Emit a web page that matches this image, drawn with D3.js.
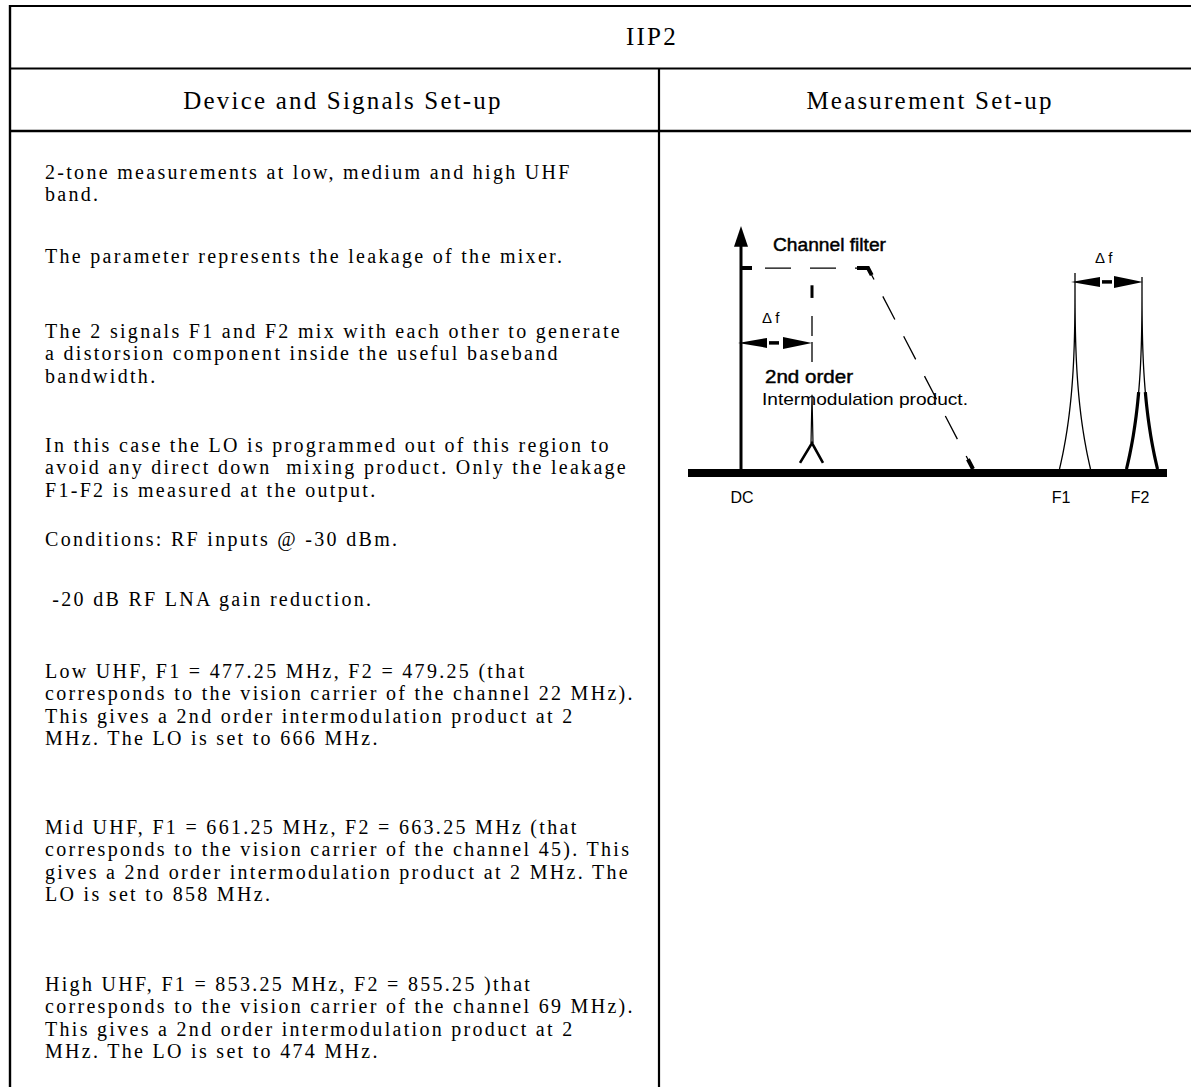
<!DOCTYPE html>
<html>
<head>
<meta charset="utf-8">
<script src="https://cdn.jsdelivr.net/npm/d3@7"></script>
<style>
  body { margin: 0; background: #fff; }
  svg { display: block; }
  .head { font-family: "Liberation Serif", "Times New Roman", serif; font-size: 25px; letter-spacing: 2.2px; fill: #000; }
  .body-text { font-family: "Liberation Serif", "Times New Roman", serif; font-size: 20px; letter-spacing: 2.3px; fill: #000; white-space: pre; }
  .diag { font-family: "Liberation Sans", Arial, sans-serif; fill: #000; }
  .heavy { stroke: #000; stroke-width: 0.45px; }
</style>
</head>
<body>
<svg id="chart"></svg>
<script>
// ---- content ----
var title = "IIP2";
var columnTitles = ["Device and Signals Set-up", "Measurement Set-up"];

var paragraphs = [
  ["2-tone measurements at low, medium and high UHF", "band."],
  ["The parameter represents the leakage of the mixer."],
  ["The 2 signals F1 and F2 mix with each other to generate",
   "a distorsion component inside the useful baseband",
   "bandwidth."],
  ["In this case the LO is programmed out of this region to",
   "avoid any direct down  mixing product. Only the leakage",
   "F1-F2 is measured at the output."],
  ["Conditions: RF inputs @ -30 dBm."],
  [" -20 dB RF LNA gain reduction."],
  ["Low UHF, F1 = 477.25 MHz, F2 = 479.25 (that",
   "corresponds to the vision carrier of the channel 22 MHz).",
   "This gives a 2nd order intermodulation product at 2",
   "MHz. The LO is set to 666 MHz."],
  ["Mid UHF, F1 = 661.25 MHz, F2 = 663.25 MHz (that",
   "corresponds to the vision carrier of the channel 45). This",
   "gives a 2nd order intermodulation product at 2 MHz. The",
   "LO is set to 858 MHz."],
  ["High UHF, F1 = 853.25 MHz, F2 = 855.25 )that",
   "corresponds to the vision carrier of the channel 69 MHz).",
   "This gives a 2nd order intermodulation product at 2",
   "MHz. The LO is set to 474 MHz."]
];

// diagram values (arbitrary frequency / amplitude units)
var toneNames = ["IM2", "F1", "F2"];
var toneFreq = [71, 334, 401];
var toneLevel = [0.305, 0.807, 0.79];
var filterFreq = [0, 127, 232];
var filterLevel = [0.827, 0.827, 0];
var axisLabels = ["DC", "F1", "F2"];
var axisLabelFreq = [1, 320, 399];
var filterLabel = "Channel filter";
var imLabel = ["2nd order", "Intermodulation product."];
var deltaLabel = "\u0394 f";

// ---- layout ----
var width = 1191, height = 1087;
var leftX = 10, dividerX = 659;
var rowY = [6, 68.5, 131];
var textX = 45, lineStep = 22.3;
var paraBaseline = [179, 263, 338, 452, 546, 606, 678, 834, 991];

var svg = d3.select("#chart").attr("width", width).attr("height", height);

// table frame
var frame = svg.append("g").attr("stroke", "#000").attr("fill", "none");
frame.append("line").attr("x1", leftX - 1).attr("x2", width).attr("y1", rowY[0]).attr("y2", rowY[0]).attr("stroke-width", 2.2);
frame.append("line").attr("x1", leftX).attr("x2", width).attr("y1", rowY[1]).attr("y2", rowY[1]).attr("stroke-width", 1.8);
frame.append("line").attr("x1", leftX).attr("x2", width).attr("y1", rowY[2]).attr("y2", rowY[2]).attr("stroke-width", 2.6);
frame.append("line").attr("x1", leftX).attr("x2", leftX).attr("y1", rowY[0] - 1).attr("y2", height).attr("stroke-width", 2.4);
frame.append("line").attr("x1", dividerX).attr("x2", dividerX).attr("y1", rowY[1]).attr("y2", height).attr("stroke-width", 2.2);

// headers
svg.append("text").attr("class", "head")
  .attr("x", 652).attr("y", 45).attr("text-anchor", "middle").text(title);

svg.selectAll(".colhead")
  .data(columnTitles)
  .enter()
  .append("text")
  .attr("class", "head colhead")
  .attr("x", function(d, i) { return i ? 930 : 343; })
  .attr("y", 109)
  .attr("text-anchor", "middle")
  .text(function(d) { return d; });

// body text
var paras = svg.append("g").selectAll("g")
  .data(paragraphs)
  .enter()
  .append("g");

paras.selectAll("text")
  .data(function(d, i) {
    return d.map(function(t, j) { return { text: t, y: paraBaseline[i] + j * lineStep }; });
  })
  .enter()
  .append("text")
  .attr("class", "body-text")
  .attr("x", textX)
  .attr("y", function(d) { return d.y; })
  .text(function(d) { return d.text; });

// ---- measurement diagram ----
var fx = d3.scaleLinear().domain([0, 400]).range([741, 1141]);
var fy = d3.scaleLinear().domain([0, 1]).range([469, 226]);

var dg = svg.append("g").attr("class", "diagram");

// baseline bar
dg.append("line")
  .attr("x1", fx(-53)).attr("x2", fx(426))
  .attr("y1", fy(0) + 4).attr("y2", fy(0) + 4)
  .attr("stroke", "#000").attr("stroke-width", 8);

// amplitude axis with arrow
dg.append("line")
  .attr("x1", fx(0)).attr("x2", fx(0))
  .attr("y1", fy(0)).attr("y2", fy(0.92))
  .attr("stroke", "#000").attr("stroke-width", 3);
dg.append("path")
  .attr("d", "M" + (fx(0) - 7) + "," + fy(0.915) + "L" + fx(0) + "," + fy(1) + "L" + (fx(0) + 7) + "," + fy(0.915) + "Z")
  .attr("fill", "#000");

// channel filter (dashed)
var line = d3.line().x(function(d) { return fx(d[0]); }).y(function(d) { return fy(d[1]); });
var filterPts = filterFreq.map(function(f, i) { return [f, filterLevel[i]]; });
var seg1 = fx(filterFreq[1]) - fx(filterFreq[0]);
var seg2 = Math.hypot(fx(filterFreq[2]) - fx(filterFreq[1]), fy(filterLevel[2]) - fy(filterLevel[1]));
dg.append("path")
  .attr("d", line(filterPts))
  .attr("fill", "none").attr("stroke", "#000").attr("stroke-width", 1.3)
  .attr("stroke-dasharray", "26 19").attr("stroke-dashoffset", 21);
dg.append("path")
  .attr("d", line(filterPts))
  .attr("fill", "none").attr("stroke", "#000").attr("stroke-width", 4)
  .attr("stroke-dasharray", [11, seg1 - 22, 19, seg2 - 19, 12].join(" "));

dg.append("text").attr("class", "diag heavy")
  .attr("x", fx(32)).attr("y", fy(0.898))
  .attr("font-size", 18).attr("textLength", 113).attr("lengthAdjust", "spacingAndGlyphs")
  .text(filterLabel);

// vertical marker from filter down to IM2 product
var imX = fx(toneFreq[0]);
dg.append("line")
  .attr("x1", imX).attr("x2", imX).attr("y1", fy(0.756)).attr("y2", fy(0.704))
  .attr("stroke", "#000").attr("stroke-width", 3);
dg.append("line")
  .attr("x1", imX).attr("x2", imX).attr("y1", fy(0.63)).attr("y2", fy(0.43))
  .attr("stroke", "#000").attr("stroke-width", 1.3).attr("stroke-dasharray", "20 6");

// double arrows for delta f
function deltaArrow(f0, f1, lvl, hw) {
  var x0 = fx(f0), x1 = fx(f1), y = fy(lvl);
  var g = dg.append("g").attr("fill", "#000");
  g.append("path").attr("d", "M" + x0 + "," + y + "L" + (x0 + 29) + "," + (y - hw) + "L" + (x0 + 29) + "," + (y + hw) + "Z");
  g.append("path").attr("d", "M" + x1 + "," + y + "L" + (x1 - 29) + "," + (y - hw - 1) + "L" + (x1 - 29) + "," + (y + hw + 1) + "Z");
  g.append("line").attr("x1", x0 + 31).attr("x2", x0 + 41).attr("y1", y).attr("y2", y)
    .attr("stroke", "#000").attr("stroke-width", 3.5);
  return g;
}
deltaArrow(-3, toneFreq[0], 0.519, 5);
deltaArrow(toneFreq[1] - 4, toneFreq[2] + 1, 0.77, 5);

dg.append("text").attr("class", "diag")
  .attr("x", fx(21)).attr("y", fy(0.6)).attr("font-size", 15)
  .text(deltaLabel);
dg.append("text").attr("class", "diag")
  .attr("x", fx(354)).attr("y", fy(0.848)).attr("font-size", 15)
  .text(deltaLabel);

// IM2 product labels
dg.append("text").attr("class", "diag heavy")
  .attr("x", fx(24)).attr("y", fy(0.354))
  .attr("font-size", 18).attr("textLength", 88).attr("lengthAdjust", "spacingAndGlyphs")
  .text(imLabel[0]);
dg.append("text").attr("class", "diag")
  .attr("x", fx(21)).attr("y", fy(0.263))
  .attr("font-size", 17).attr("textLength", 206).attr("lengthAdjust", "spacingAndGlyphs")
  .text(imLabel[1]);

// IM2 tone: narrow spike ending in a fork
dg.append("path")
  .attr("d", "M" + (imX - 1) + "," + fy(0.107) + "L" + imX + "," + fy(toneLevel[0]) + "L" + (imX + 1) + "," + fy(0.107))
  .attr("fill", "none").attr("stroke", "#000").attr("stroke-width", 1.2);
dg.append("path")
  .attr("d", "M" + (imX - 12) + "," + fy(0.025) + "L" + imX + "," + fy(0.107) + "L" + (imX + 11) + "," + fy(0.025))
  .attr("fill", "none").attr("stroke", "#000").attr("stroke-width", 2.6);

// F1 / F2 tones
function spike(f, lvl, hMax) {
  var steps = d3.range(0, 1.0001, 0.025).filter(function(h) { return h <= hMax + 1e-9; });
  var left = steps.map(function(h) { return [fx(f) - 15.5 * Math.pow(1 - h, 3), fy(lvl * h)]; });
  var right = steps.map(function(h) { return [fx(f) + 15.5 * Math.pow(1 - h, 3), fy(lvl * h)]; });
  if (hMax >= 1) return d3.line()(left.concat(right.slice(0, -1).reverse()));
  return d3.line()(left) + d3.line()(right);
}
[1, 2].forEach(function(i) {
  dg.append("path").attr("d", spike(toneFreq[i], toneLevel[i], 1))
    .attr("fill", "none").attr("stroke", "#000").attr("stroke-width", 1.3);
});
dg.append("path").attr("d", spike(toneFreq[2], toneLevel[2], 0.42))
  .attr("fill", "none").attr("stroke", "#000").attr("stroke-width", 3.2);

// frequency labels
dg.selectAll(".flabel")
  .data(axisLabels)
  .enter()
  .append("text")
  .attr("class", "diag flabel")
  .attr("x", function(d, i) { return fx(axisLabelFreq[i]); })
  .attr("y", fy(-0.14))
  .attr("text-anchor", "middle")
  .attr("font-size", 16)
  .text(function(d) { return d; });
</script>
</body>
</html>
